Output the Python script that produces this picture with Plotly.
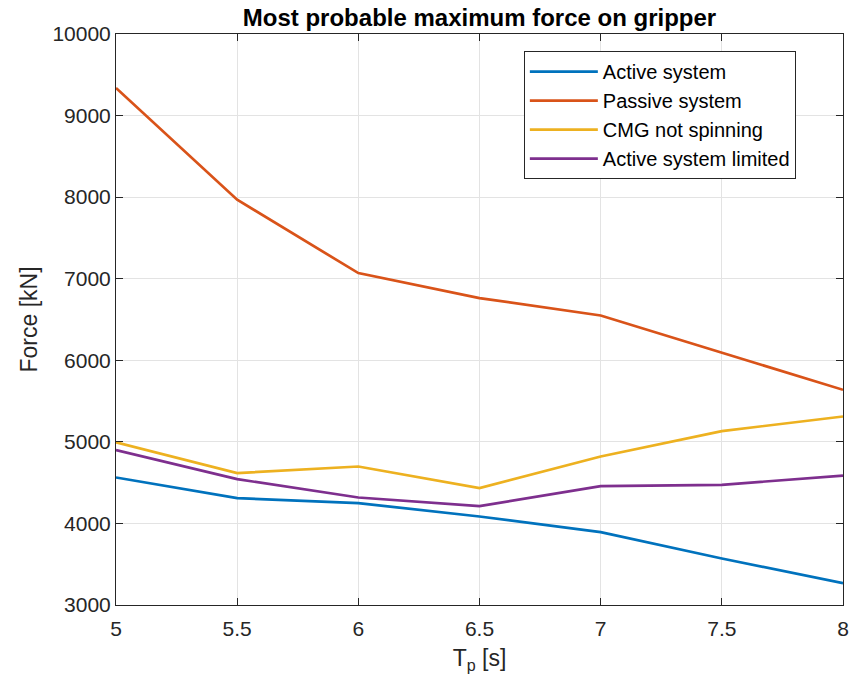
import plotly.graph_objects as go

tp = [5, 5.5, 6, 6.5, 7, 7.5, 8]
active = [4563, 4310, 4249, 4085, 3893, 3570, 3268]
passive = [9338, 7968, 7069, 6763, 6549, 6096, 5638]
cmg = [4995, 4617, 4698, 4433, 4820, 5132, 5311]
limited = [4899, 4543, 4318, 4212, 4457, 4473, 4587]

names = ["Active system", "Passive system", "CMG not spinning", "Active system limited"]
series = [active, passive, cmg, limited]
colors = ["#0072BD", "#D95319", "#EDB120", "#7E2F8E"]

xticks = [5, 5.5, 6, 6.5, 7, 7.5, 8]
xticktext = ["5", "5.5", "6", "6.5", "7", "7.5", "8"]
yticks = [3000, 4000, 5000, 6000, 7000, 8000, 9000, 10000]
yticktext = ["3000", "4000", "5000", "6000", "7000", "8000", "9000", "10000"]

FONT = "Liberation Sans, Arial, Helvetica, sans-serif"
AX = "#262626"

fig = go.Figure()
for n, s, c in zip(names, series, colors):
    fig.add_trace(go.Scatter(x=tp, y=s, mode="lines", name=n,
                             line=dict(color=c, width=2.7)))

fig.update_layout(
    width=851, height=686,
    margin=dict(l=116, r=8, t=34, b=81),
    plot_bgcolor="white", paper_bgcolor="white",
    font=dict(family=FONT, color=AX),
    title=dict(text="<b>Most probable maximum force on gripper</b>",
               font=dict(family=FONT, size=24, color="black"),
               x=0.5, xref="paper", xanchor="center",
               y=0.974, yref="container", yanchor="middle"),
    legend=dict(x=0.561, y=0.97, xanchor="left", yanchor="top",
                bgcolor="white", bordercolor=AX, borderwidth=1,
                font=dict(family=FONT, size=20, color="black"),
                tracegroupgap=0, itemwidth=68),
    showlegend=True,
)
fig.update_xaxes(
    range=[5, 8], tickvals=xticks, ticktext=xticktext,
    showline=True, linecolor=AX, linewidth=1, mirror="ticks",
    ticks="inside", ticklen=7, tickcolor=AX, ticklabelstandoff=5,
    showgrid=True, gridcolor="#e3e3e3", gridwidth=1, zeroline=False,
    tickfont=dict(family=FONT, size=21, color=AX), automargin=False,
    title=dict(text="T<sub>p</sub> [s]", font=dict(family=FONT, size=23, color=AX),
               standoff=10),
)
fig.update_yaxes(
    range=[3000, 10000], tickvals=yticks, ticktext=yticktext,
    showline=True, linecolor=AX, linewidth=1, mirror="ticks",
    ticks="inside", ticklen=7, tickcolor=AX,
    showgrid=True, gridcolor="#e3e3e3", gridwidth=1, zeroline=False,
    tickfont=dict(family=FONT, size=21, color=AX), automargin=False,
    title=dict(text="Force [kN]", font=dict(family=FONT, size=23, color=AX),
               standoff=8),
)

fig.write_html("out.html")
